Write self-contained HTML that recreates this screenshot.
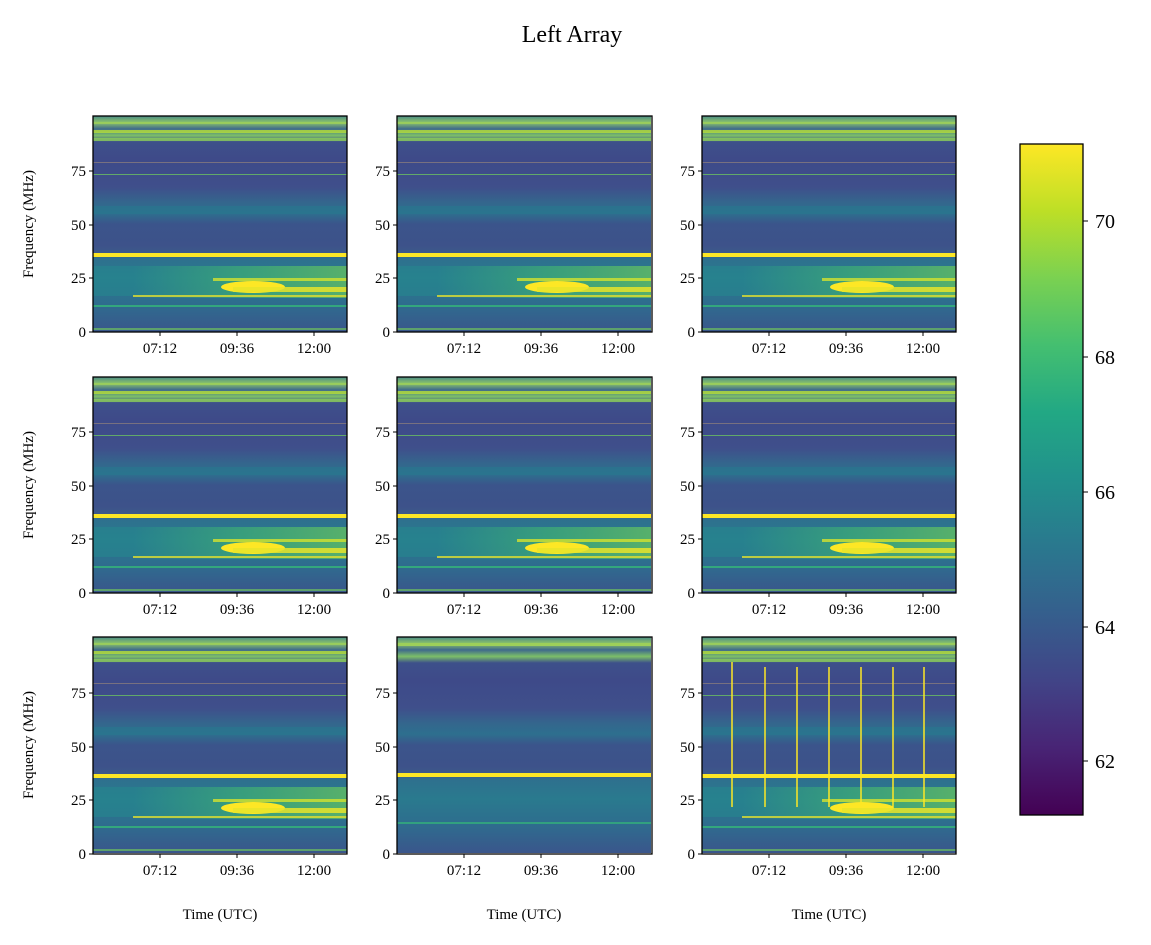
<!DOCTYPE html>
<html><head><meta charset="utf-8"><style>
body{margin:0;background:#fff;}
svg{display:block;font-family:"Liberation Serif","DejaVu Serif",serif;}
</style></head><body>
<svg width="1151" height="945" viewBox="0 0 1151 945" xmlns="http://www.w3.org/2000/svg">
<defs>
<linearGradient id="cb" x1="0" y1="1" x2="0" y2="0">
<stop offset="0" stop-color="#440154"/><stop offset="0.1" stop-color="#482475"/><stop offset="0.2" stop-color="#414487"/><stop offset="0.3" stop-color="#355f8d"/><stop offset="0.4" stop-color="#2a788e"/><stop offset="0.5" stop-color="#21918c"/><stop offset="0.6" stop-color="#22a884"/><stop offset="0.7" stop-color="#44bf70"/><stop offset="0.8" stop-color="#7ad151"/><stop offset="0.9" stop-color="#bddf26"/><stop offset="1" stop-color="#fde725"/>
</linearGradient>
<linearGradient id="bg" x1="0" y1="0" x2="0" y2="1">
<stop offset="0" stop-color="#4a8a86"/><stop offset="0.03" stop-color="#8cc46a"/><stop offset="0.06" stop-color="#3f6a8c"/><stop offset="0.09" stop-color="#7cbf68"/><stop offset="0.12" stop-color="#3d508a"/><stop offset="0.2" stop-color="#3e4a89"/><stop offset="0.33" stop-color="#3f4f8b"/><stop offset="0.4" stop-color="#34668d"/><stop offset="0.45" stop-color="#2d6f8e"/><stop offset="0.5" stop-color="#3b548b"/><stop offset="0.6" stop-color="#3d528a"/><stop offset="0.64" stop-color="#3c5a8b"/><stop offset="0.66" stop-color="#2e708e"/><stop offset="0.75" stop-color="#2a7a8e"/><stop offset="0.85" stop-color="#2d6f8e"/><stop offset="0.9" stop-color="#31678e"/><stop offset="1" stop-color="#3a568b"/>
</linearGradient>
<linearGradient id="hz" x1="0" y1="0" x2="1" y2="0">
<stop offset="0" stop-color="#45b56f" stop-opacity="0"/><stop offset="0.5" stop-color="#45b56f" stop-opacity=".55"/><stop offset="1" stop-color="#6cc55c" stop-opacity=".7"/>
</linearGradient>
<g id="spec">
<rect x="0" y="0" width="254" height="216" fill="url(#bg)"/>
<rect x="0" y="6" width="254" height="2" fill="#9dd05a" opacity=".8"/>
<rect x="0" y="14" width="254" height="3" fill="#b5dd3a" opacity=".8"/>
<rect x="0" y="22" width="254" height="3" fill="#8ccc5a" opacity=".8"/>
<rect x="0" y="46" width="254" height="1" fill="#a08a7a" opacity=".6"/>
<rect x="0" y="58" width="254" height="1" fill="#6cc060" opacity=".8"/>
<rect x="0" y="90" width="254" height="8" fill="#2a768e" opacity=".7"/>
<rect x="0" y="150" width="254" height="30" fill="#23898d" opacity=".5"/>
<rect x="40" y="150" width="214" height="32" fill="url(#hz)"/>
<rect x="120" y="162" width="134" height="3" fill="#d3e22e" opacity=".8"/>
<ellipse cx="160" cy="171" rx="32" ry="6" fill="#fde725"/>
<rect x="140" y="171" width="114" height="5" fill="#e8e42a" opacity=".85"/>
<rect x="40" y="179" width="214" height="2" fill="#e0e030" opacity=".8"/>
<rect x="0" y="189" width="254" height="2" fill="#35b779" opacity=".8"/>
<rect x="0" y="137" width="254" height="4" fill="#fde725"/>
<rect x="0" y="212" width="254" height="2" fill="#6cc060" opacity=".7"/>
</g>
</defs>
<text x="572" y="42" font-size="24" text-anchor="middle">Left Array</text>
<g font-size="15" fill="#000" stroke="none">
<g transform="translate(93,116)"><use href="#spec"/></g>
<g transform="translate(397,116)"><use href="#spec"/></g>
<g transform="translate(702,116)"><use href="#spec"/></g>
<g transform="translate(93,377)"><use href="#spec"/></g>
<g transform="translate(397,377)"><use href="#spec"/></g>
<g transform="translate(702,377)"><use href="#spec"/></g>
<g transform="translate(93,637)"><use href="#spec"/></g>
<g transform="translate(397,637)"><rect width="254" height="216" fill="url(#bg)"/><rect x="0" y="6" width="254" height="3" fill="#9dd05a"/><rect y="136" width="254" height="4" fill="#fde725"/><rect y="185" width="254" height="2" fill="#35b779" opacity=".7"/></g>
<g transform="translate(702,637)"><use href="#spec"/>
<g stroke="#fde725" stroke-width="1.5"><line x1="30" y1="25" x2="30" y2="170"/><line x1="63" y1="30" x2="63" y2="170"/><line x1="95" y1="30" x2="95" y2="170"/><line x1="127" y1="30" x2="127" y2="170"/><line x1="159" y1="30" x2="159" y2="170"/><line x1="191" y1="30" x2="191" y2="170"/><line x1="222" y1="30" x2="222" y2="170"/></g></g>
<g fill="none" stroke="#000" stroke-width="1.3">
<rect x="93" y="116" width="254" height="216"/><rect x="397" y="116" width="255" height="216"/><rect x="702" y="116" width="254" height="216"/>
<rect x="93" y="377" width="254" height="216"/><rect x="397" y="377" width="255" height="216"/><rect x="702" y="377" width="254" height="216"/>
<rect x="93" y="637" width="254" height="217"/><rect x="397" y="637" width="255" height="217"/><rect x="702" y="637" width="254" height="217"/>
</g>
<g stroke="#000" stroke-width="1">
<path d="M93,332h-4M93,278h-4M93,225h-4M93,171h-4 M397,332h-4M397,278h-4M397,225h-4M397,171h-4 M702,332h-4M702,278h-4M702,225h-4M702,171h-4"/>
<path d="M93,593h-4M93,539h-4M93,486h-4M93,432h-4 M397,593h-4M397,539h-4M397,486h-4M397,432h-4 M702,593h-4M702,539h-4M702,486h-4M702,432h-4"/>
<path d="M93,854h-4M93,800h-4M93,747h-4M93,693h-4 M397,854h-4M397,800h-4M397,747h-4M397,693h-4 M702,854h-4M702,800h-4M702,747h-4M702,693h-4"/>
<path d="M160,332v4M237,332v4M314,332v4M464,332v4M541,332v4M618,332v4M769,332v4M846,332v4M923,332v4"/>
<path d="M160,593v4M237,593v4M314,593v4M464,593v4M541,593v4M618,593v4M769,593v4M846,593v4M923,593v4"/>
<path d="M160,854v4M237,854v4M314,854v4M464,854v4M541,854v4M618,854v4M769,854v4M846,854v4M923,854v4"/>
</g>
<g text-anchor="end">
<text x="86" y="337">0</text><text x="86" y="283">25</text><text x="86" y="230">50</text><text x="86" y="176">75</text>
<text x="390" y="337">0</text><text x="390" y="283">25</text><text x="390" y="230">50</text><text x="390" y="176">75</text>
<text x="695" y="337">0</text><text x="695" y="283">25</text><text x="695" y="230">50</text><text x="695" y="176">75</text>
<text x="86" y="598">0</text><text x="86" y="544">25</text><text x="86" y="491">50</text><text x="86" y="437">75</text>
<text x="390" y="598">0</text><text x="390" y="544">25</text><text x="390" y="491">50</text><text x="390" y="437">75</text>
<text x="695" y="598">0</text><text x="695" y="544">25</text><text x="695" y="491">50</text><text x="695" y="437">75</text>
<text x="86" y="859">0</text><text x="86" y="805">25</text><text x="86" y="752">50</text><text x="86" y="698">75</text>
<text x="390" y="859">0</text><text x="390" y="805">25</text><text x="390" y="752">50</text><text x="390" y="698">75</text>
<text x="695" y="859">0</text><text x="695" y="805">25</text><text x="695" y="752">50</text><text x="695" y="698">75</text>
</g>
<g text-anchor="middle">
<text x="160" y="353">07:12</text><text x="237" y="353">09:36</text><text x="314" y="353">12:00</text>
<text x="464" y="353">07:12</text><text x="541" y="353">09:36</text><text x="618" y="353">12:00</text>
<text x="769" y="353">07:12</text><text x="846" y="353">09:36</text><text x="923" y="353">12:00</text>
<text x="160" y="614">07:12</text><text x="237" y="614">09:36</text><text x="314" y="614">12:00</text>
<text x="464" y="614">07:12</text><text x="541" y="614">09:36</text><text x="618" y="614">12:00</text>
<text x="769" y="614">07:12</text><text x="846" y="614">09:36</text><text x="923" y="614">12:00</text>
<text x="160" y="875">07:12</text><text x="237" y="875">09:36</text><text x="314" y="875">12:00</text>
<text x="464" y="875">07:12</text><text x="541" y="875">09:36</text><text x="618" y="875">12:00</text>
<text x="769" y="875">07:12</text><text x="846" y="875">09:36</text><text x="923" y="875">12:00</text>
<text x="220" y="919">Time (UTC)</text><text x="524" y="919">Time (UTC)</text><text x="829" y="919">Time (UTC)</text>
<text transform="translate(33,224) rotate(-90)">Frequency (MHz)</text>
<text transform="translate(33,485) rotate(-90)">Frequency (MHz)</text>
<text transform="translate(33,745) rotate(-90)">Frequency (MHz)</text>
</g>
<rect x="1020" y="144" width="63" height="671" fill="url(#cb)" stroke="#000" stroke-width="1.3"/>
<g stroke="#000"><path d="M1083,221h5M1083,357h5M1083,492h5M1083,627h5M1083,761h5"/></g>
<g font-size="20"><text x="1095" y="228">70</text><text x="1095" y="364">68</text><text x="1095" y="499">66</text><text x="1095" y="634">64</text><text x="1095" y="768">62</text></g>
</g>
</svg>
</body></html>
